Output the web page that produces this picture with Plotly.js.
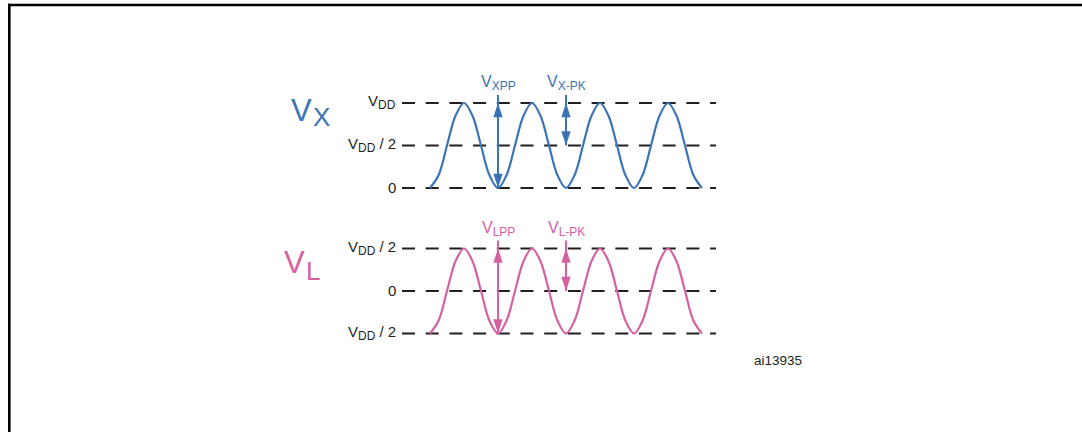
<!DOCTYPE html>
<html>
<head>
<meta charset="utf-8">
<script src="https://cdn.plot.ly/plotly-3.0.1.min.js"></script>
<style>
  html, body { margin: 0; padding: 0; background: #fff; }
  #chart { width: 1082px; height: 432px; }
</style>
</head>
<body>
<div id="chart"></div>
<script>
// time in periods of the input signal, read at eighth-period steps
let cycleTime = [0, 0.125, 0.25, 0.375, 0.5, 0.625, 0.75, 0.875,
                 1, 1.125, 1.25, 1.375, 1.5, 1.625, 1.75, 1.875,
                 2, 2.125, 2.25, 2.375, 2.5, 2.625, 2.75, 2.875,
                 3, 3.125, 3.25, 3.375, 3.5, 3.625, 3.75, 3.875, 4];

// Vx in units of VDD (swings 0 .. VDD)
let vxValues = [0, 0.15, 0.5, 0.85, 1, 0.85, 0.5, 0.15,
                0, 0.15, 0.5, 0.85, 1, 0.85, 0.5, 0.15,
                0, 0.15, 0.5, 0.85, 1, 0.85, 0.5, 0.15,
                0, 0.15, 0.5, 0.85, 1, 0.85, 0.5, 0.15, 0];

// VL in units of VDD (swings -VDD/2 .. VDD/2)
let vlValues = [-0.5, -0.35, 0, 0.35, 0.5, 0.35, 0, -0.35,
                -0.5, -0.35, 0, 0.35, 0.5, 0.35, 0, -0.35,
                -0.5, -0.35, 0, 0.35, 0.5, 0.35, 0, -0.35,
                -0.5, -0.35, 0, 0.35, 0.5, 0.35, 0, -0.35, -0.5];

// subscript helper, a bit larger than plotly's default 70 %
function sub(s) {
    return '<sub><span style="font-size:12px">' + s + '</span></sub>';
}

// reference levels and their labels
let vxLevels = [1, 0.5, 0];
let vxLevelLabels = ['V' + sub('DD'), 'V' + sub('DD') + ' / 2', '0'];
let vlLevels = [0.5, 0, -0.5];
let vlLevelLabels = ['V' + sub('DD') + ' / 2', '0', 'V' + sub('DD') + ' / 2'];

// measurement arrows: [time, from, to]
let vxppArrow = [1, 0, 1];
let vxpkArrow = [2, 0.5, 1];
let vlppArrow = [1, -0.5, 0.5];
let vlpkArrow = [2, 0, 0.5];

let blue = '#3b74b5';
let pink = '#d6609f';
let ink = '#231f20';

// pixel layout of the figure
let W = 1082, H = 432;
let x0px = 430, periodPx = 68;
let vxZeroPx = 188, vlZeroPx = 291, vddPx = 85;
let lineStart = (402 - x0px) / periodPx;
let lineEnd = (716 - x0px) / periodPx;
let labelT = (398 - x0px) / periodPx;
let font = 'Liberation Sans, Arial, sans-serif';

let traces = [];

function levelLines(levels, axis) {
    levels.forEach(function(lv) {
        traces.push({
            x: [lineStart, lineEnd], y: [lv, lv], yaxis: axis,
            mode: 'lines', hoverinfo: 'skip',
            line: {color: ink, width: 2, dash: '13px,10.7px'}
        });
    });
}
levelLines(vxLevels, 'y');
levelLines(vlLevels, 'y2');

traces.push({
    x: cycleTime, y: vxValues, yaxis: 'y', mode: 'lines',
    line: {color: blue, width: 2.2, shape: 'spline', smoothing: 1}
});
traces.push({
    x: cycleTime, y: vlValues, yaxis: 'y2', mode: 'lines',
    line: {color: pink, width: 2.2, shape: 'spline', smoothing: 1}
});

let annotations = [];
let over = 8 / vddPx;   // arrow stem runs a little above the top level

function measure(arrow, axis, color, label) {
    let t = arrow[0], lo = arrow[1], hi = arrow[2];
    // stem
    traces.push({
        x: [t, t], y: [lo, hi + over], yaxis: axis, mode: 'lines',
        line: {color: color, width: 2}
    });
    // heads, tip sits on the level
    traces.push({
        x: [t, t], y: [hi, lo], yaxis: axis, mode: 'markers',
        marker: {symbol: 'arrow', angle: [0, 180], size: 15, color: color,
                 line: {width: 0}}
    });
    annotations.push({
        xref: 'x', yref: axis, x: t, y: hi + over, yanchor: 'bottom',
        xanchor: 'center', showarrow: false, text: label, yshift: 0,
        font: {family: font, size: 16, color: color}
    });
}
measure(vxppArrow, 'y', blue, 'V' + sub('XPP'));
measure(vxpkArrow, 'y', blue, 'V' + sub('X-PK'));
measure(vlppArrow, 'y2', pink, 'V' + sub('LPP'));
measure(vlpkArrow, 'y2', pink, 'V' + sub('L-PK'));

function levelLabels(levels, labels, axis) {
    levels.forEach(function(lv, i) {
        annotations.push({
            xref: 'x', yref: axis, x: labelT, y: lv, xanchor: 'right',
            yanchor: 'middle', showarrow: false, text: labels[i], yshift: 1,
            font: {family: font, size: 15, color: ink}
        });
    });
}
levelLabels(vxLevels, vxLevelLabels, 'y');
levelLabels(vlLevels, vlLevelLabels, 'y2');

function px(x, y) {
    return {x: x / W, y: 1 - y / H};
}

// big signal names
[
    {text: 'V', at: px(289, 111), size: 31, color: blue},
    {text: 'X', at: px(311, 117), size: 26, color: blue},
    {text: 'V', at: px(282, 262), size: 31, color: pink},
    {text: 'L', at: px(304, 271), size: 26, color: pink}
].forEach(function(b) {
    annotations.push({
        xref: 'paper', yref: 'paper', x: b.at.x, y: b.at.y,
        xanchor: 'left', yanchor: 'middle', showarrow: false, text: b.text,
        font: {family: font, size: b.size, color: b.color}
    });
});

let tag = px(778, 360);
annotations.push({
    xref: 'paper', yref: 'paper', x: tag.x, y: tag.y, xanchor: 'center',
    yanchor: 'middle', showarrow: false, text: 'ai13935',
    font: {family: font, size: 13.5, color: ink}
});

// frame of the figure box
let shapes = [
    {type: 'line', xref: 'paper', yref: 'paper',
     x0: 8 / W, x1: 1.05, y0: 1 - 5 / H, y1: 1 - 5 / H,
     line: {color: '#000', width: 2.6}},
    {type: 'line', xref: 'paper', yref: 'paper',
     x0: 9.3 / W, x1: 9.3 / W, y0: 1 - 3.8 / H, y1: -0.05,
     line: {color: '#000', width: 2.6}}
];

let layout = {
    width: W, height: H,
    margin: {l: 0, r: 0, t: 0, b: 0},
    paper_bgcolor: '#fff', plot_bgcolor: '#fff',
    showlegend: false,
    xaxis: {range: [-x0px / periodPx, (W - x0px) / periodPx], visible: false, fixedrange: true},
    yaxis: {range: [(vxZeroPx - H) / vddPx, vxZeroPx / vddPx], visible: false, fixedrange: true},
    yaxis2: {range: [(vlZeroPx - H) / vddPx, vlZeroPx / vddPx], visible: false,
             overlaying: 'y', fixedrange: true},
    annotations: annotations,
    shapes: shapes
};

Plotly.newPlot('chart', traces, layout, {displayModeBar: false, staticPlot: true});
</script>
</body>
</html>
